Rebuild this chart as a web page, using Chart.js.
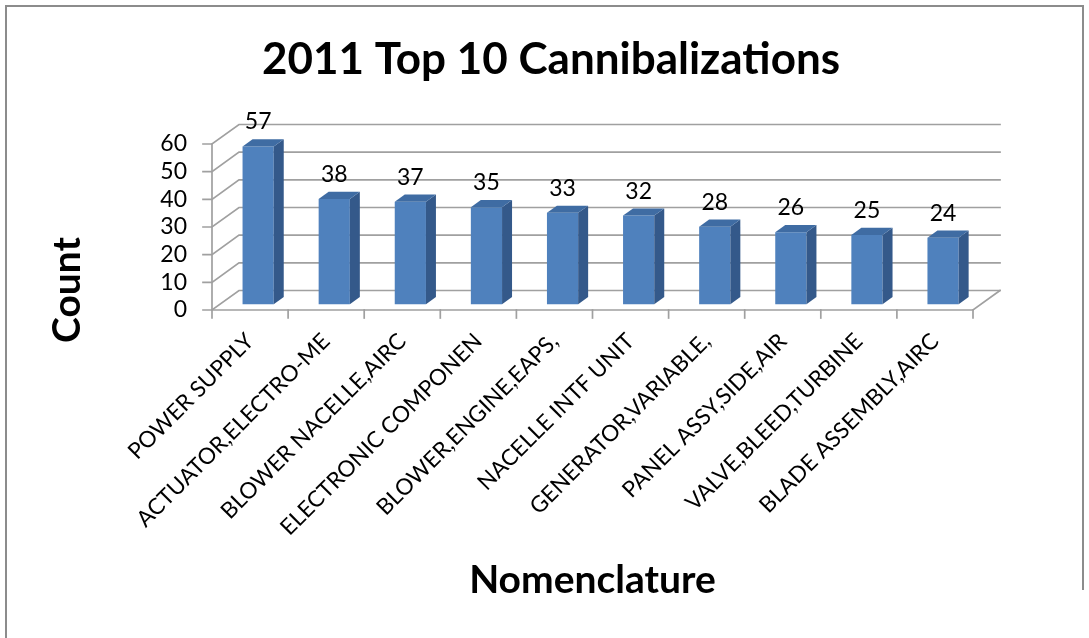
<!DOCTYPE html>
<html>
<head>
<meta charset="utf-8">
<title>2011 Top 10 Cannibalizations</title>
<script src="https://cdn.jsdelivr.net/npm/chart.js@4.4.1/dist/chart.umd.min.js"></script>
<style>
  html, body { margin: 0; padding: 0; background: #fff; }
  #wrap { position: relative; width: 1089px; height: 638px; }
</style>
</head>
<body>
<div id="wrap"><canvas id="chart"></canvas></div>
<script>
const categories = [
  'POWER SUPPLY', 'ACTUATOR,ELECTRO-ME', 'BLOWER NACELLE,AIRC', 'ELECTRONIC COMPONEN',
  'BLOWER,ENGINE,EAPS,', 'NACELLE INTF UNIT', 'GENERATOR,VARIABLE,', 'PANEL ASSY,SIDE,AIR',
  'VALVE,BLEED,TURBINE', 'BLADE ASSEMBLY,AIRC'
];
const counts = [57, 38, 37, 35, 33, 32, 28, 26, 25, 24];
const yTicks = [0, 10, 20, 30, 40, 50, 60];
const chartTitle = '2011 Top 10 Cannibalizations';
const yTitle = 'Count';
const xTitle = 'Nomenclature';

const FONT = "Lato, 'Open Sans', sans-serif";
const GRID = '#a0a0a0';
const FRONT = '#4f81bd';
const SIDE = '#34598a';
const TOP = '#3f6ca3';

// floor depth: from the front edge of the floor to the back wall
const DEPTH = { x: 27, y: -19.5 };
// bars stand a little way into the floor and are this deep
const BAR_SHIFT = 0.3;
const BAR_DEPTH = 0.37;

// fake 3D: walls behind, shifted bars, side and top faces, value labels
const box3d = {
  id: 'box3d',
  beforeDatasetsDraw(chart) {
    const { ctx, chartArea: a, scales: { x, y } } = chart;
    ctx.save();
    ctx.strokeStyle = GRID;
    ctx.lineWidth = 1.7;
    ctx.lineCap = 'square';
    yTicks.forEach(v => {
      const py = y.getPixelForValue(v);
      ctx.beginPath();
      ctx.moveTo(a.left - 9, py);
      ctx.lineTo(a.left, py);
      ctx.lineTo(a.left + DEPTH.x, py + DEPTH.y);
      ctx.lineTo(a.right + DEPTH.x, py + DEPTH.y);
      ctx.stroke();
    });
    // front axis and floor edges
    ctx.beginPath();
    ctx.moveTo(a.left, y.getPixelForValue(yTicks[yTicks.length - 1]));
    ctx.lineTo(a.left, a.bottom);
    ctx.lineTo(a.right, a.bottom);
    ctx.lineTo(a.right + DEPTH.x, a.bottom + DEPTH.y);
    ctx.stroke();
    // category tick marks
    const step = (a.right - a.left) / categories.length;
    for (let i = 0; i <= categories.length; i++) {
      const px = x.getPixelForValue(i) - step / 2;
      ctx.beginPath();
      ctx.moveTo(px, a.bottom);
      ctx.lineTo(px, a.bottom + 8);
      ctx.stroke();
    }
    ctx.restore();

    ctx.save();
    ctx.translate(DEPTH.x * BAR_SHIFT, DEPTH.y * BAR_SHIFT);
  },
  afterDatasetsDraw(chart) {
    const { ctx } = chart;
    const dx = DEPTH.x * BAR_DEPTH;
    const dy = DEPTH.y * BAR_DEPTH;
    const bars = chart.getDatasetMeta(0).data;
    bars.forEach((bar, i) => {
      const { x, y, base, width } = bar.getProps(['x', 'y', 'base', 'width'], true);
      const l = x - width / 2;
      const r = x + width / 2;
      ctx.fillStyle = SIDE;
      ctx.beginPath();
      ctx.moveTo(r, y);
      ctx.lineTo(r + dx, y + dy);
      ctx.lineTo(r + dx, base + dy);
      ctx.lineTo(r, base);
      ctx.closePath();
      ctx.fill();
      ctx.fillStyle = TOP;
      ctx.beginPath();
      ctx.moveTo(l, y);
      ctx.lineTo(l + dx, y + dy);
      ctx.lineTo(r + dx, y + dy);
      ctx.lineTo(r, y);
      ctx.closePath();
      ctx.fill();

      ctx.fillStyle = '#000';
      ctx.font = '23px ' + FONT;
      ctx.textAlign = 'center';
      ctx.textBaseline = 'alphabetic';
      ctx.fillText(String(counts[i]), x, y - 17);
    });
    ctx.restore();
  },
  afterDraw(chart) {
    const { ctx } = chart;
    ctx.save();
    ctx.fillStyle = '#000';
    ctx.textAlign = 'center';
    ctx.textBaseline = 'alphabetic';
    ctx.font = 'bold 44px ' + FONT;
    ctx.fillText(chartTitle, 551, 74);
    // y axis title
    ctx.translate(80, 290);
    ctx.rotate(-Math.PI / 2);
    ctx.font = 'bold 39px ' + FONT;
    ctx.fillText(yTitle, 0, 0);
    ctx.restore();
    // outer frame
    ctx.save();
    ctx.strokeStyle = '#8c8c8c';
    ctx.lineWidth = 2;
    ctx.beginPath();
    ctx.moveTo(6, 640);
    ctx.lineTo(6, 6);
    ctx.lineTo(1083, 6);
    ctx.lineTo(1083, 590);
    ctx.stroke();
    ctx.restore();
  }
};

new Chart(document.getElementById('chart'), {
  type: 'bar',
  data: {
    labels: categories,
    datasets: [{
      label: yTitle,
      data: counts,
      backgroundColor: FRONT,
      borderWidth: 0,
      categoryPercentage: 1,
      barPercentage: 0.41,
      clip: false
    }]
  },
  options: {
    responsive: true,
    maintainAspectRatio: false,
    animation: false,
    layout: { padding: { top: 144, right: 116, bottom: 0, left: 0 } },
    plugins: {
      legend: { display: false },
      tooltip: { enabled: false },
      title: { display: false }
    },
    scales: {
      x: {
        offset: true,
        grid: { display: false, drawTicks: false },
        border: { display: false },
        ticks: {
          autoSkip: false,
          minRotation: 45,
          maxRotation: 45,
          padding: 18,
          color: '#000',
          font: { family: FONT, size: 22.5 }
        },
        title: {
          display: true,
          text: xTitle,
          color: '#000',
          font: { family: FONT, size: 39, weight: 'bold' },
          padding: { top: 0, bottom: 34 }
        },
        afterFit(scale) { scale.height = 328; }
      },
      y: {
        min: 0,
        max: 60,
        grid: { display: false, drawTicks: false },
        border: { display: false },
        afterBuildTicks(scale) { scale.ticks = yTicks.map(v => ({ value: v })); },
        ticks: {
          autoSkip: false,
          padding: 25,
          color: '#000',
          font: { family: FONT, size: 23 }
        },
        afterFit(scale) { scale.width = 212; }
      }
    }
  },
  plugins: [box3d]
});
</script>
</body>
</html>
